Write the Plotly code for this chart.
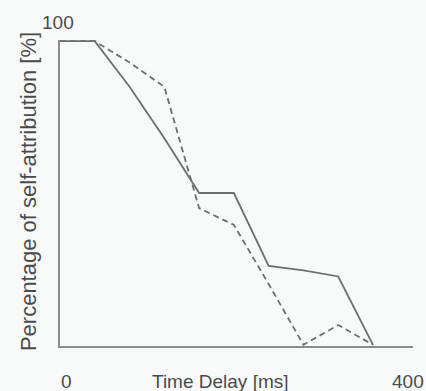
import plotly.graph_objects as go

delays = [0, 40, 80, 120, 160, 200, 240, 280, 320, 360]
solid_pct = [100, 100, 85, 68, 50, 50, 26, 24.5, 22.5, 0]
dashed_pct = [100, 100, 93, 85, 45, 39.5, 20, 0, 6.5, 0]
x_tick_labels = ["0", "400"]
x_tick_vals = [0, 400]
y_top_label = "100"
x_title = "Time Delay [ms]"
y_title = "Percentage of self-attribution [%]"

line_col = "#6e6e6e"
axis_col = "#8c8c8c"
text_col = "#4a4a4a"
font_fam = "Liberation Sans, Arial, sans-serif"

fig = go.Figure()
fig.add_trace(go.Scatter(x=delays, y=solid_pct, mode="lines",
                         line=dict(color=line_col, width=1.8), showlegend=False))
fig.add_trace(go.Scatter(x=delays, y=dashed_pct, mode="lines",
                         line=dict(color=line_col, width=1.8, dash="6px,4px"), showlegend=False))

annotations = []
shifts = [6, 0]
for v, t, s in zip(x_tick_vals, x_tick_labels, shifts):
    annotations.append(dict(x=v, y=0, xref="x", yref="paper", text=t, showarrow=False,
                            xshift=s, yshift=-35, xanchor="center", yanchor="middle",
                            font=dict(size=19, color=text_col, family=font_fam)))
annotations.append(dict(x=185, y=0, xref="x", yref="paper", text=x_title, showarrow=False,
                        yshift=-35, xanchor="center", yanchor="middle",
                        font=dict(size=19, color=text_col, family=font_fam)))
annotations.append(dict(x=0, y=100, xref="x", yref="y", text=y_top_label, showarrow=False,
                        xshift=-2, yshift=19, xanchor="center", yanchor="middle",
                        font=dict(size=19, color=text_col, family=font_fam)))
annotations.append(dict(x=0, y=50.3, xref="paper", yref="y", text=y_title, showarrow=False,
                        xshift=-32, textangle=-90, xanchor="center", yanchor="middle",
                        font=dict(size=22, color=text_col, family=font_fam)))

fig.update_layout(
    width=426, height=391,
    margin=dict(l=60, r=13, t=40, b=45),
    paper_bgcolor="#f8fafa", plot_bgcolor="#f8fafa",
    annotations=annotations,
    xaxis=dict(range=[0, 406], showgrid=False, zeroline=False, showticklabels=False,
               ticks="", showline=True, linecolor=axis_col, linewidth=2),
    yaxis=dict(range=[-0.4, 100.4], showgrid=False, zeroline=False, showticklabels=False,
               ticks="", showline=True, linecolor=axis_col, linewidth=2),
)
fig.write_html("out.html", config={"displayModeBar": False},
               post_script="document.body.style.margin='0';document.body.style.overflow='hidden';document.body.style.background='#f8fafa';")
